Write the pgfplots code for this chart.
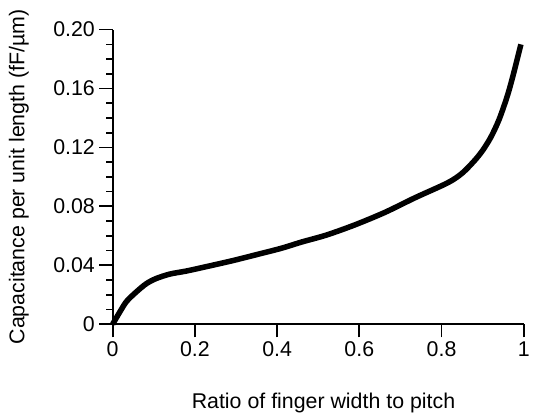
\documentclass[border=0pt]{standalone}
\usepackage{fontspec}
\setmainfont{Liberation Sans}
\usepackage{pgfplots}
\pgfplotsset{compat=1.18}

\begin{document}
\begin{tikzpicture}
\begin{axis}[
  scale only axis, width=312pt, height=223.5pt,
  xmin=0, xmax=1, ymin=0, ymax=0.2,
  axis lines=left, axis line style={-, line width=1.5pt},
  tick align=outside, tick style={line width=1.3pt, black},
  major tick length=10pt, minor tick length=5pt,
  xtick={0,0.2,0.4,0.6,0.8,1}, xticklabels={0,0.2,0.4,0.6,0.8,1},
  ytick={0,0.04,0.08,0.12,0.16,0.2}, yticklabels={0,0.04,0.08,0.12,0.16,0.20},
  minor y tick num=3,
  tick label style={font=\fontsize{16.2}{18}\selectfont},
  label style={font=\fontsize{16.2}{18}\selectfont},
  xlabel={Ratio of finger width to pitch},
  ylabel={Capacitance per unit length (fF/µm)},
  xlabel style={at={(axis description cs:0.5,-0.268)}, anchor=center, xshift=4pt},
  ylabel style={at={(axis description cs:-0.228,0.5)}, anchor=center},
  clip=false,
]
\addplot[black, line width=4.2pt, smooth, tension=0.5] coordinates {
  (0,0) (0.019,0.009) (0.034,0.0155) (0.058,0.022) (0.082,0.0275)
  (0.106,0.031) (0.139,0.034) (0.178,0.036) (0.219,0.0385)
  (0.29,0.0430) (0.34,0.0465) (0.41,0.0515) (0.46,0.0558)
  (0.52,0.0605) (0.59,0.0675) (0.663,0.0760) (0.736,0.0859)
  (0.815,0.096) (0.85,0.1025) (0.88,0.111) (0.90,0.118) (0.92,0.127)
  (0.94,0.139) (0.96,0.155) (0.975,0.170) (0.993,0.190)
};
\end{axis}
\pgfresetboundingbox
\path ([shift={(-85.5pt,-69pt)}]current axis.south west) rectangle ([shift={(7pt,22.5pt)}]current axis.north east);
\end{tikzpicture}
\end{document}
